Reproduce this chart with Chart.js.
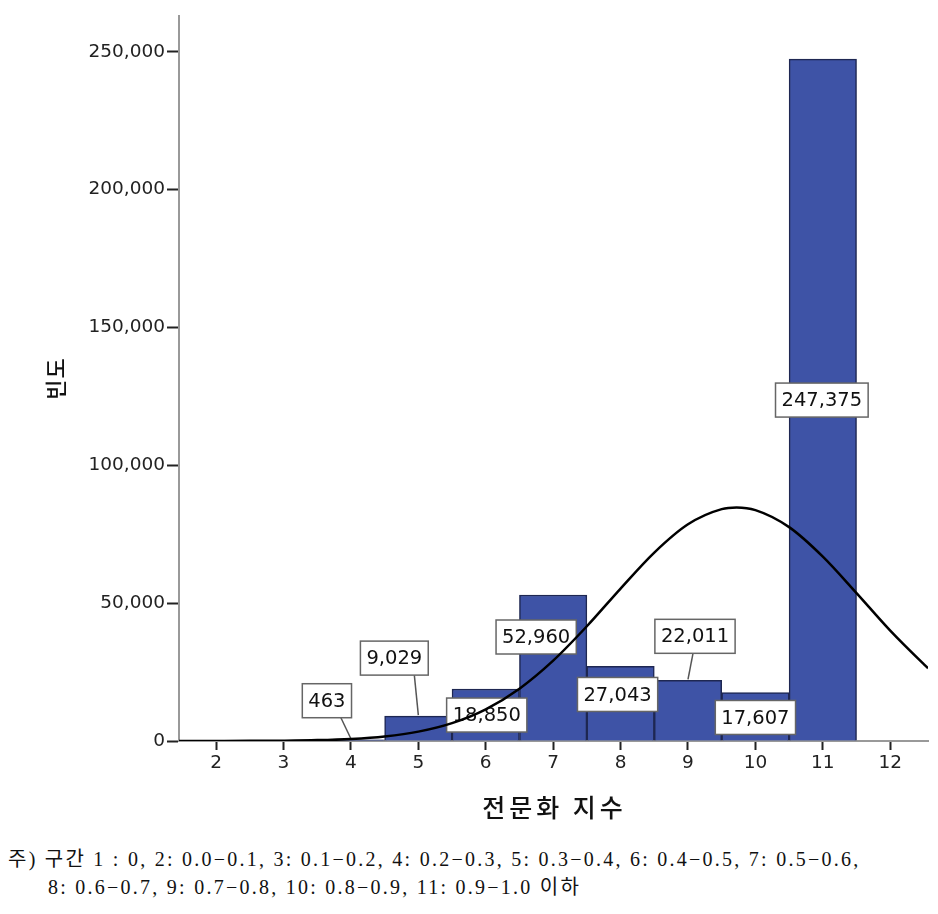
<!DOCTYPE html>
<html>
<head>
<meta charset="utf-8">
<script src="https://cdn.jsdelivr.net/npm/chart.js@4.4.1/dist/chart.umd.min.js"></script>
<style>
  html, body { margin: 0; padding: 0; background: #fff; }
  #wrap { position: relative; width: 938px; height: 914px; }
  #histChart { position: absolute; left: 0; top: 0; }
  .note {
    position: absolute;
    font-family: "Liberation Serif", "Noto Sans CJK KR", serif;
    font-size: 20px;
    line-height: 28px;
    letter-spacing: 2.25px;
    color: #111;
    white-space: nowrap;
  }
</style>
</head>
<body>
<div id="wrap">
  <canvas id="histChart" width="938" height="830"></canvas>
  <div class="note" style="left:8px; top:845px;">주) 구간 1 : 0, 2: 0.0−0.1, 3: 0.1−0.2, 4: 0.2−0.3, 5: 0.3−0.4, 6: 0.4−0.5, 7: 0.5−0.6,</div>
  <div class="note" style="left:48px; top:873px;">8: 0.6−0.7, 9: 0.7−0.8, 10: 0.8−0.9, 11: 0.9−1.0 이하</div>
</div>
<script>
// histogram bins (구간) and frequencies
const bins = [4, 5, 6, 7, 8, 9, 10, 11];
const counts = [463, 9029, 18850, 52960, 27043, 22011, 17607, 247375];

// normal curve
const curveX = [1.45, 2, 2.5, 3, 3.5, 4, 4.5, 5, 5.5, 6, 6.5, 7, 7.5, 8, 8.5, 9, 9.5, 9.72, 10, 10.5, 11, 11.5, 12, 12.5, 12.56];
const curveY = [4, 16, 46, 126, 320, 756, 1665, 3409, 6495, 11510, 18990, 29150, 41620, 55290, 68350, 78610, 84110, 84700, 83760, 77590, 66880, 53640, 40020, 27790, 26400];

const xTicks = [2, 3, 4, 5, 6, 7, 8, 9, 10, 11, 12];
const yTicks = [0, 50000, 100000, 150000, 200000, 250000];

const xTitle = '전문화 지수';
const yTitle = '빈도';

// label box placement relative to the top of each bar (px); lead = where the pointer line leaves the box
const labelPos = [
  { dx: -24, dy: -39, lead: 14 },
  { dx: -24, dy: -58, lead: 20 },
  { dx: 1, dy: 26 },
  { dx: -17, dy: 42 },
  { dx: -3, dy: 28 },
  { dx: 7, dy: -44, lead: -2 },
  { dx: 0, dy: 25 },
  { dx: -1, dy: 341 }
];

const fmt = v => v.toLocaleString('en-US');

// value boxes: drawn right after the bars so the curve goes over them
const valueLabels = {
  id: 'valueLabels',
  afterDatasetDraw(chart, args) {
    if (args.index !== 1) return;
    const { ctx, scales: { x, y } } = chart;
    ctx.save();
    ctx.font = '19.5px "DejaVu Sans", sans-serif';
    ctx.textAlign = 'center';
    ctx.textBaseline = 'middle';
    bins.forEach((b, i) => {
      const px = x.getPixelForValue(b);
      const py = y.getPixelForValue(counts[i]);
      const pos = labelPos[i];
      const text = fmt(counts[i]);
      const w = ctx.measureText(text).width + 12;
      const h = 34;
      const cx = px + pos.dx;
      const cy = py + pos.dy;
      if (pos.lead !== undefined) {
        ctx.strokeStyle = '#555';
        ctx.lineWidth = 1.5;
        ctx.beginPath();
        ctx.moveTo(cx + pos.lead, cy + h / 2);
        ctx.lineTo(px, py - 1);
        ctx.stroke();
      }
      ctx.fillStyle = '#fff';
      ctx.fillRect(cx - w / 2, cy - h / 2, w, h);
      ctx.strokeStyle = '#666';
      ctx.lineWidth = 1.5;
      ctx.strokeRect(cx - w / 2, cy - h / 2, w, h);
      ctx.fillStyle = '#111';
      ctx.fillText(text, cx, cy + 1);
    });
    ctx.restore();
  }
};

// axis titles (spaced out like the original)
const axisTitles = {
  id: 'axisTitles',
  afterDraw(chart) {
    const { ctx, chartArea } = chart;
    ctx.save();
    ctx.fillStyle = '#111';
    ctx.textAlign = 'center';
    ctx.textBaseline = 'middle';
    ctx.font = '500 25px "Noto Sans CJK KR", sans-serif';
    ctx.letterSpacing = '4px';
    ctx.fillText(xTitle, (chartArea.left + chartArea.right) / 2 + 1, chartArea.bottom + 66);
    ctx.letterSpacing = '1px';
    ctx.font = '500 22px "Noto Sans CJK KR", sans-serif';
    ctx.translate(56, (chartArea.top + chartArea.bottom) / 2);
    ctx.rotate(-Math.PI / 2);
    ctx.fillText(yTitle, 0, 0);
    ctx.restore();
  }
};

const ctx = document.getElementById('histChart').getContext('2d');
const histChart = new Chart(ctx, {
  type: 'bar',
  data: {
    datasets: [
      {
        type: 'line',
        data: curveX.map((v, i) => ({ x: v, y: curveY[i] })),
        borderColor: '#000',
        borderWidth: 2.5,
        pointRadius: 0,
        cubicInterpolationMode: 'monotone',
        fill: false,
        order: 0
      },
      {
        type: 'bar',
        data: bins.map((b, i) => ({ x: b, y: counts[i] })),
        backgroundColor: '#3E53A6',
        borderColor: '#1E2752',
        borderWidth: 1.5,
        barPercentage: 1,
        categoryPercentage: 1,
        order: 1
      }
    ]
  },
  options: {
    responsive: false,
    animation: false,
    layout: { padding: { top: 16, right: 10, left: 0, bottom: 0 } },
    plugins: {
      legend: { display: false },
      tooltip: { enabled: false }
    },
    scales: {
      x: {
        type: 'linear',
        min: 1.45,
        max: 12.56,
        offset: false,
        afterFit(scale) { scale.height = 89; },
        afterBuildTicks(scale) { scale.ticks = xTicks.map(v => ({ value: v })); },
        grid: { offset: false, drawOnChartArea: false, drawTicks: true, tickLength: 9, tickColor: '#222', tickWidth: 2 },
        border: { color: '#999', width: 2 },
        ticks: {
          padding: 2,
          color: '#222',
          font: { family: '"DejaVu Sans", sans-serif', size: 18.5 },
          maxRotation: 0,
          callback: v => v
        }
      },
      y: {
        min: 0,
        max: 263000,
        afterFit(scale) { scale.width = 179; },
        afterBuildTicks(scale) { scale.ticks = yTicks.map(v => ({ value: v })); },
        grid: { drawOnChartArea: false, drawTicks: true, tickLength: 12, tickColor: '#222', tickWidth: 2 },
        border: { color: '#999', width: 2 },
        ticks: {
          padding: 2,
          color: '#222',
          font: { family: '"DejaVu Sans", sans-serif', size: 18.5 },
          callback: v => fmt(v)
        }
      }
    }
  },
  plugins: [valueLabels, axisTitles]
});
</script>
</body>
</html>
